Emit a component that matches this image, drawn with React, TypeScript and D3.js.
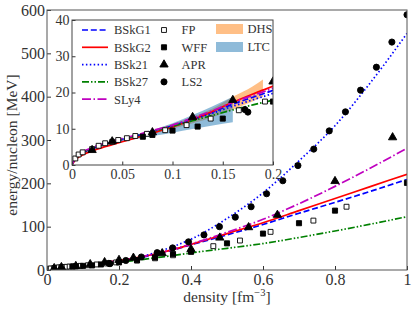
import React, { useEffect, useRef } from "react";
import * as d3 from "d3";

// density grid shared by the model curves [fm^-3]
const densityGrid = [0, 0.002, 0.005, 0.01, 0.02, 0.03, 0.04, 0.06, 0.08, 0.1, 0.12, 0.14, 0.16, 0.18, 0.2, 0.25, 0.3, 0.35, 0.4, 0.5, 0.6, 0.7, 0.8, 0.9, 1.0];

// energy per nucleon [MeV] of each functional on densityGrid
const bskg1 = [0, 1.2, 2.2, 3.2, 4.5, 5.5, 6.3, 7.7, 9.2, 10.8, 12.6, 14.6, 16.8, 18.7, 20.6, 27, 36, 46, 58, 81, 105, 131, 156, 182, 209];
const bskg2 = [0, 0.9, 1.8, 2.7, 3.9, 4.8, 5.6, 7.2, 8.8, 10.5, 12.5, 14.8, 17.3, 19.6, 21.8, 28.5, 37, 47, 59, 84, 109, 137, 165, 193, 221];
const bsk21 = [0, 1.2, 2.2, 3.3, 4.6, 5.6, 6.4, 7.8, 9.3, 10.8, 12.5, 14.3, 16.2, 18.0, 19.8, 28, 40, 54, 71, 119, 178, 252, 333, 434, 546];
const bsk27 = [0, 1.2, 2.2, 3.3, 4.6, 5.6, 6.4, 7.8, 9.2, 10.7, 12.2, 13.7, 15.2, 16.6, 17.9, 22.5, 28, 33.5, 39.5, 50, 61, 75, 90, 106, 123];
const sly4 = [0, 1.3, 2.4, 3.5, 4.8, 5.8, 6.6, 8.0, 9.5, 11.0, 13.0, 15.0, 17.3, 19.2, 21.2, 28.5, 37.5, 48, 60, 87, 117, 153, 193, 236, 281];

// microscopic calculations (markers)
const fpDensity = [0.0033, 0.0066, 0.0106, 0.02, 0.0265, 0.033, 0.04, 0.046, 0.0546, 0.063, 0.0745, 0.0927, 0.114, 0.138, 0.166, 0.192, 0.25, 0.3, 0.35, 0.4, 0.462, 0.536, 0.621, 0.74, 0.832];
const fpEnergy = [1.8, 2.9, 3.5, 4.4, 5.3, 6.0, 6.4, 6.9, 7.4, 8.0, 8.6, 9.6, 11.0, 12.8, 15.1, 17.5, 22, 27, 34, 43, 55, 68, 88, 114, 146];
const wffDensity = [0.0705, 0.08, 0.1, 0.125, 0.15, 0.2, 0.25, 0.3, 0.35, 0.4, 0.5, 0.6, 0.7, 0.8, 1.0];
const wffEnergy = [7.8, 8.3, 9.5, 10.6, 12.8, 17.5, 22.5, 29, 37, 42, 61.5, 84, 108, 137, 201];
const aprDensity = [0.02, 0.04, 0.08, 0.12, 0.16, 0.2, 0.24, 0.32, 0.4, 0.48, 0.56, 0.64, 0.8, 0.96];
const aprEnergy = [4.1, 6.5, 9.0, 13.2, 17.9, 23, 28, 38.5, 48, 74.5, 98.5, 127, 205, 306];
const ls2Density = [0.172, 0.175, 0.219, 0.262, 0.306, 0.349, 0.393, 0.436, 0.479, 0.523, 0.567, 0.61, 0.655, 0.697, 0.741, 0.784, 0.829, 0.871, 0.915, 0.958, 1.0];
const ls2Energy = [15.3, 14.6, 22, 30, 40, 51, 65, 81, 100, 122, 146, 176, 206, 241, 279, 321, 365, 415, 468, 526, 589];

// ab initio bands
const dhsDensity = [0.06, 0.08, 0.1, 0.12, 0.14, 0.16, 0.18, 0.19];
const dhsLower = [7.3, 8.6, 10.0, 11.5, 13.2, 15.3, 17.6, 18.8];
const dhsUpper = [7.9, 9.5, 11.3, 13.3, 15.6, 18.8, 21.7, 23.6];
const ltcDensity = [0.02, 0.04, 0.06, 0.08, 0.1, 0.12, 0.14, 0.16];
const ltcLower = [4.0, 5.8, 7.0, 8.0, 8.9, 9.9, 10.9, 11.8];
const ltcUpper = [4.5, 6.4, 8.0, 9.6, 11.5, 13.8, 16.2, 18.8];

const FONT = "'Liberation Serif', 'DejaVu Serif', serif";

const lineStyles = [
  { name: "BSkG1", values: bskg1, color: "#0000ff", dash: "6,2.8" },
  { name: "BSkG2", values: bskg2, color: "#ff0000", dash: null },
  { name: "BSk21", values: bsk21, color: "#0000ff", dash: "1.5,2.4" },
  { name: "BSk27", values: bsk27, color: "#008000", dash: "7,2,1.5,2,1.5,2" },
  { name: "SLy4", values: sly4, color: "#bf00bf", dash: "9,2.5,1.5,2.5" },
];

const markerSets = [
  { name: "FP", xs: fpDensity, ys: fpEnergy, type: d3.symbolSquare, size: 24, fill: "white" },
  { name: "WFF", xs: wffDensity, ys: wffEnergy, type: d3.symbolSquare, size: 26, fill: "black" },
  { name: "APR", xs: aprDensity, ys: aprEnergy, type: d3.symbolTriangle, size: 30, fill: "black" },
  { name: "LS2", xs: ls2Density, ys: ls2Energy, type: d3.symbolCircle, size: 30, fill: "black" },
];

const bands = [
  { name: "DHS", xs: dhsDensity, lo: dhsLower, hi: dhsUpper, color: "#ff7f0e" },
  { name: "LTC", xs: ltcDensity, lo: ltcLower, hi: ltcUpper, color: "#1f77b4" },
];

const App = () => {
  const svgRef = useRef<SVGSVGElement>(null);

  useEffect(() => {
    const svg = d3.select(svgRef.current);
    svg.selectAll("*").remove();

    const W = 416;
    const H = 311;
    svg.attr("width", W).attr("height", H);

    const defs = svg.append("defs");

    // draw bands, curves and markers inside one panel
    const drawPanel = (g, x, y, clipId) => {
      const [x0, x1] = x.range();
      const [yb, yt] = y.range();
      defs.append("clipPath").attr("id", clipId)
        .append("rect").attr("x", x0).attr("y", yt).attr("width", x1 - x0).attr("height", yb - yt);
      const body = g.append("g").attr("clip-path", `url(#${clipId})`);

      bands.forEach((b) => {
        const area = d3.area<number>()
          .x((_, i) => x(b.xs[i]))
          .y0((_, i) => y(b.lo[i]))
          .y1((_, i) => y(b.hi[i]))
          .curve(d3.curveMonotoneX);
        body.append("path").attr("d", area(b.xs)).attr("fill", b.color).attr("fill-opacity", 0.5);
      });

      lineStyles.forEach((s) => {
        const line = d3.line<number>()
          .x((_, i) => x(densityGrid[i]))
          .y((d) => y(d))
          .curve(d3.curveMonotoneX);
        body.append("path").attr("d", line(s.values))
          .attr("fill", "none").attr("stroke", s.color).attr("stroke-width", 1.7)
          .attr("stroke-dasharray", s.dash);
      });

      markerSets.forEach((m) => {
        const sym = d3.symbol().type(m.type).size(m.size);
        body.selectAll(null).data(m.xs).enter().append("path")
          .attr("d", sym())
          .attr("transform", (d, i) => `translate(${x(d)},${y(m.ys[i])})`)
          .attr("fill", m.fill).attr("stroke", "black").attr("stroke-width", 0.9);
      });
    };

    const styleAxis = (g, size) => {
      g.select(".domain").remove();
      g.selectAll("line").attr("stroke", "#333");
      g.selectAll("text").attr("font-family", FONT).attr("font-size", size).attr("fill", "#333");
    };

    // main axes
    const x = d3.scaleLinear().domain([0, 1]).range([47, 407]);
    const y = d3.scaleLinear().domain([0, 600]).range([270, 10]);
    const main = svg.append("g");
    drawPanel(main, x, y, "clip-main");

    main.append("g").attr("transform", "translate(0,270)")
      .call(d3.axisBottom(x).tickValues([0, 0.2, 0.4, 0.6, 0.8, 1]).tickSize(-4).tickPadding(3.5).tickFormat(d3.format("")))
      .call((g) => styleAxis(g, 16));
    main.append("g").attr("transform", "translate(47,0)")
      .call(d3.axisLeft(y).tickValues([0, 100, 200, 300, 400, 500, 600]).tickSize(-4).tickPadding(2).tickFormat(d3.format("")))
      .call((g) => styleAxis(g, 16));
    main.append("rect").attr("x", 47).attr("y", 10).attr("width", 360).attr("height", 260)
      .attr("fill", "none").attr("stroke", "#555").attr("stroke-width", 1);

    main.append("text").attr("x", 227).attr("y", 302).attr("text-anchor", "middle")
      .attr("font-family", FONT).attr("font-size", 15.5).attr("fill", "#333")
      .call((t) => {
        t.append("tspan").text("density [fm");
        t.append("tspan").attr("font-size", 10.5).attr("dy", -6).text("−3");
        t.append("tspan").attr("dy", 6).text("]");
      });
    main.append("text").attr("transform", "translate(17,145) rotate(-90)").attr("text-anchor", "middle")
      .attr("font-family", FONT).attr("font-size", 15.5).attr("fill", "#333")
      .text("energy/nucleon [MeV]");

    // inset axes
    const xi = d3.scaleLinear().domain([0, 0.2]).range([72, 273]);
    const yi = d3.scaleLinear().domain([0, 40]).range([165, 20]);
    const inset = svg.append("g");
    inset.append("rect").attr("x", 72).attr("y", 20).attr("width", 201).attr("height", 145).attr("fill", "white");
    drawPanel(inset, xi, yi, "clip-inset");
    inset.append("g").attr("transform", "translate(0,165)")
      .call(d3.axisBottom(xi).tickValues([0, 0.05, 0.1, 0.15, 0.2]).tickSize(-3.5).tickPadding(4.5).tickFormat(d3.format("")))
      .call((g) => styleAxis(g, 14));
    inset.append("g").attr("transform", "translate(72,0)")
      .call(d3.axisLeft(yi).tickValues([0, 10, 20, 30, 40]).tickSize(-3.5).tickPadding(2.5).tickFormat(d3.format("")))
      .call((g) => styleAxis(g, 14));
    inset.append("rect").attr("x", 72).attr("y", 20).attr("width", 201).attr("height", 145)
      .attr("fill", "none").attr("stroke", "#444").attr("stroke-width", 1);

    // legend inside the inset
    const legend = inset.append("g").attr("font-family", FONT).attr("font-size", 12.5).attr("fill", "#333");
    lineStyles.forEach((s, i) => {
      const ly = 30 + i * 17.3;
      legend.append("line").attr("x1", 82).attr("x2", 108).attr("y1", ly).attr("y2", ly)
        .attr("stroke", s.color).attr("stroke-width", 1.7).attr("stroke-dasharray", s.dash);
      legend.append("text").attr("x", 114).attr("y", ly).attr("dy", "0.35em").text(s.name);
    });
    markerSets.forEach((m, i) => {
      const ly = 30 + i * 17.3;
      legend.append("path").attr("d", d3.symbol().type(m.type).size(m.size)())
        .attr("transform", `translate(164,${ly})`)
        .attr("fill", m.fill).attr("stroke", "black").attr("stroke-width", 0.9);
      legend.append("text").attr("x", 181.5).attr("y", ly).attr("dy", "0.35em").text(m.name);
    });
    bands.forEach((b, i) => {
      const ly = 29 + i * 18;
      legend.append("rect").attr("x", 216).attr("y", ly - 5).attr("width", 27).attr("height", 10)
        .attr("fill", b.color).attr("fill-opacity", 0.5);
      legend.append("text").attr("x", 247.5).attr("y", ly).attr("dy", "0.35em").text(b.name);
    });
  }, []);

  return <svg ref={svgRef} style={{ position: "absolute", left: 0, top: 0 }} />;
};

export default App;
